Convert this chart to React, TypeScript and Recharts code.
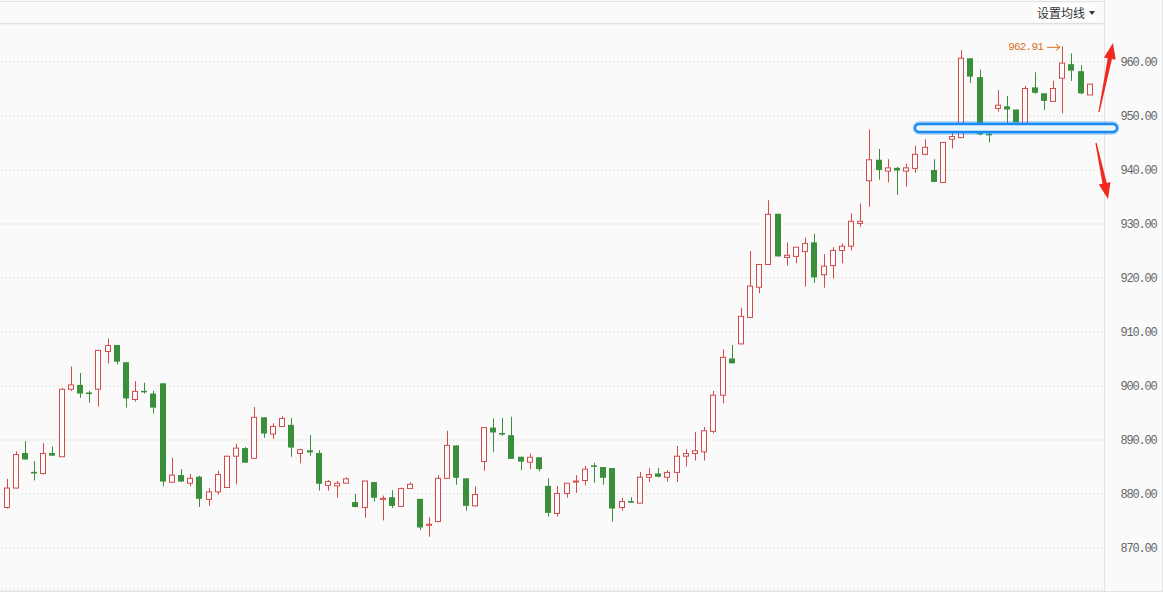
import React from "react";
import {
  ComposedChart,
  Bar,
  XAxis,
  YAxis,
  CartesianGrid,
  ReferenceLine,
} from "recharts";

// daily candles (oldest first)
const opens = [
  872.4, 877.5, 881.1, 887.6, 884.1, 883.8, 887.6, 886.9, 899.4, 900.2,
  898.8, 899.4, 906.4, 907.6, 904.4, 897.5, 899.1, 898.6, 900.5, 882.2,
  883.5, 882.0, 883.2, 879.0, 880.4, 881.2, 887.0, 888.5, 886.6, 894.2,
  891.1, 892.5, 892.8, 887.5, 888.1, 887.6, 881.6, 881.5, 882.0, 878.5,
  877.5, 882.2, 879.0, 879.4, 877.7, 881.0, 879.1, 874.2, 874.9, 882.9,
  889.0, 882.9, 877.8, 886.0, 892.3, 891.3, 890.9, 886.9, 885.9, 886.8,
  881.5, 876.4, 880.1, 882.2, 882.5, 885.3, 885.0, 884.8, 877.5, 878.7,
  878.3, 883.1, 883.8, 883.1, 884.0, 887.0, 887.5, 887.8, 891.6, 898.3,
  905.1, 907.8, 912.7, 918.3, 922.5, 931.9, 923.8, 924.0, 924.9, 926.6,
  920.6, 922.3, 925.1, 925.9, 930.1, 938.0, 941.9, 939.8, 940.4, 939.8,
  940.3, 942.9, 940.0, 937.7, 945.7, 946.0, 960.7, 957.2, 946.7, 951.4,
  951.8, 951.2, 948.4, 955.3, 954.2, 952.7, 957.0, 959.6, 958.3, 953.9,
];
const highs = [
  877.6, 882.8, 887.9, 889.8, 886.1, 889.4, 888.8, 899.6, 903.6, 902.4,
  899.1, 906.6, 908.8, 907.6, 904.4, 900.9, 900.6, 899.1, 900.5, 886.7,
  884.6, 883.7, 883.4, 881.1, 884.3, 887.0, 889.3, 888.7, 896.1, 894.2,
  893.1, 894.4, 894.1, 888.4, 890.9, 888.1, 882.6, 882.4, 883.1, 880.0,
  882.4, 882.2, 879.7, 880.7, 881.2, 882.2, 879.1, 875.7, 883.5, 891.7,
  889.0, 882.9, 881.4, 892.3, 894.0, 894.1, 894.3, 886.9, 887.5, 886.8,
  882.9, 881.5, 882.0, 883.5, 885.2, 885.8, 885.0, 884.8, 879.3, 879.4,
  884.1, 884.8, 884.8, 884.4, 888.9, 888.3, 891.5, 892.4, 899.1, 906.8,
  907.6, 914.5, 925.0, 922.5, 934.4, 931.9, 926.6, 925.7, 927.5, 928.2,
  924.4, 925.7, 926.4, 932.0, 933.8, 947.5, 943.9, 942.0, 940.6, 941.2,
  944.5, 945.7, 942.0, 945.1, 947.1, 962.2, 960.7, 958.6, 948.0, 954.8,
  953.7, 951.2, 955.6, 958.1, 954.2, 956.5, 962.91, 961.6, 959.4, 955.9,
];
const lows = [
  872.4, 877.3, 881.0, 886.3, 882.5, 883.6, 887.0, 886.9, 899.1, 897.8,
  896.9, 896.2, 904.2, 904.0, 896.0, 897.1, 898.6, 894.9, 881.4, 882.0,
  882.3, 881.4, 877.6, 877.8, 879.9, 881.2, 881.8, 885.8, 886.6, 890.4,
  890.2, 892.5, 886.9, 885.7, 887.1, 880.6, 880.6, 879.3, 882.0, 877.5,
  875.6, 878.6, 875.1, 877.4, 877.6, 881.0, 873.3, 872.1, 874.8, 882.9,
  881.7, 876.9, 877.7, 884.3, 887.8, 890.8, 886.5, 884.4, 884.6, 884.2,
  875.8, 875.8, 879.3, 880.2, 881.6, 882.1, 881.7, 874.9, 876.9, 878.4,
  878.3, 882.2, 883.1, 882.3, 882.2, 885.1, 886.2, 886.2, 891.2, 896.8,
  904.2, 907.7, 912.7, 917.2, 922.5, 924.0, 922.3, 922.7, 918.4, 919.1,
  918.2, 919.9, 922.7, 925.1, 929.5, 933.2, 938.2, 937.7, 935.4, 936.9,
  939.5, 942.7, 937.8, 937.7, 944.0, 946.0, 956.1, 946.4, 945.1, 950.8,
  948.5, 948.8, 947.4, 954.1, 951.1, 952.7, 950.5, 956.5, 954.0, 953.9,
];
const closes = [
  877.5, 881.1, 887.3, 886.4, 883.8, 887.5, 887.1, 899.4, 900.2, 898.6,
  898.5, 906.6, 907.5, 904.5, 897.7, 899.0, 898.9, 896.0, 882.3, 883.5,
  882.3, 882.9, 879.1, 880.4, 883.6, 887.0, 888.5, 885.8, 894.2, 891.2,
  892.5, 894.0, 888.6, 888.2, 887.7, 881.9, 882.3, 882.0, 882.8, 877.6,
  882.4, 879.3, 879.2, 877.8, 881.0, 881.8, 873.8, 874.4, 882.9, 889.0,
  883.0, 877.8, 879.9, 892.3, 891.4, 891.0, 886.5, 886.0, 886.8, 884.6,
  876.5, 880.1, 882.0, 882.4, 884.6, 885.1, 883.0, 877.3, 878.6, 878.4,
  883.1, 883.6, 883.2, 884.0, 887.0, 887.5, 888.0, 891.7, 898.3, 905.3,
  904.2, 912.9, 918.5, 922.5, 931.8, 924.0, 924.2, 925.7, 926.4, 920.1,
  922.2, 925.1, 925.9, 930.5, 930.5, 941.9, 940.0, 940.4, 939.9, 940.4,
  942.9, 944.2, 937.8, 945.1, 946.2, 960.7, 957.3, 946.6, 946.6, 952.0,
  951.2, 948.8, 955.1, 954.3, 952.8, 955.1, 959.8, 958.4, 954.2, 955.9,
];

const priceTicks = [870, 880, 890, 900, 910, 920, 930, 940, 950, 960];
const supportLevel = 947.8; // hand-drawn blue band

const UP = "#d24a4a";
const DOWN = "#3a8f3a";
const maxHigh = Math.max(...highs);

const data = opens.map((o, i) => ({
  idx: i,
  open: o,
  high: highs[i],
  low: lows[i],
  close: closes[i],
  range: [lows[i], highs[i]],
}));

const Candle = (props: any) => {
  const { x, y, width, height, payload } = props;
  if (!payload) return null;
  const { open, close, high, low } = payload;
  const top = Math.min(y, y + height);
  const span = Math.abs(height);
  const k = high > low ? span / (high - low) : 0;
  const py = (v: number) => top + (high - v) * k;
  const c = Math.floor(x + width / 2);
  const up = close >= open;
  const color = up ? UP : DOWN;
  const bTop = py(Math.max(open, close));
  const bBot = py(Math.min(open, close));
  const bh = Math.max(bBot - bTop, 1);
  const wx = c + 0.5;

  return (
    <g>
      {up ? (
        <>
          <line x1={wx} x2={wx} y1={py(high)} y2={bTop} stroke={color} strokeWidth={1} />
          <line x1={wx} x2={wx} y1={bTop + bh} y2={py(low)} stroke={color} strokeWidth={1} />
          <rect x={c - 2.5} y={bTop} width={5} height={bh} fill="#fdfdfd" stroke={color} strokeWidth={1} />
        </>
      ) : (
        <>
          <line x1={wx} x2={wx} y1={py(high)} y2={py(low)} stroke={color} strokeWidth={1} />
          <rect x={c - 3} y={bTop} width={6} height={Math.max(bh, 1.5)} fill={color} />
        </>
      )}
      {high === maxHigh && (
        <g>
          <text
            x={c - 19}
            y={py(high)}
            dy="0.35em"
            textAnchor="end"
            fontSize={11}
            fontFamily="Liberation Mono, monospace"
            letterSpacing={-0.8}
            fill="#d9711f"
          >
            {high.toFixed(2)}
          </text>
          <path
            d={`M${c - 15},${py(high) + 1} H${c - 2} M${c - 6},${py(high) - 2} L${c - 2},${py(high) + 1} L${c - 6},${py(high) + 4}`}
            stroke="#d9711f"
            strokeWidth={1}
            fill="none"
          />
        </g>
      )}
    </g>
  );
};

const SupportBand = (props: any) => {
  const { y1 } = props;
  const left = 915;
  const right = 1117;
  return (
    <g>
      <rect x={left} y={y1 - 4.5} width={right - left} height={9} rx={4.5} fill="none" stroke="rgba(40,150,245,0.4)" strokeWidth={4.5} />
      <rect x={left} y={y1 - 4} width={right - left} height={8} rx={4} fill="#eaf5ff" stroke="#1a8cf0" strokeWidth={2.5} />
    </g>
  );
};

function arrowPoints(x0: number, y0: number, x1: number, y1: number) {
  const len = Math.hypot(x1 - x0, y1 - y0);
  const ux = (x1 - x0) / len;
  const uy = (y1 - y0) / len;
  const nx = -uy;
  const ny = ux;
  const head = 16;
  const bx = x1 - ux * head;
  const by = y1 - uy * head;
  const pts = [
    [x0 + nx * 0.6, y0 + ny * 0.6],
    [bx + nx * 2.2, by + ny * 2.2],
    [bx + nx * 6, by + ny * 6],
    [x1, y1],
    [bx - nx * 6, by - ny * 6],
    [bx - nx * 2.2, by - ny * 2.2],
    [x0 - nx * 0.6, y0 - ny * 0.6],
  ];
  return pts.map((p) => p.join(",")).join(" ");
}

const line = (style: React.CSSProperties) => (
  <div style={{ position: "absolute", background: "#e2e2e2", ...style }} />
);

export default function App() {
  return (
    <div
      style={{
        position: "absolute",
        left: 0,
        top: 0,
        width: 1163,
        height: 592,
        background: "#fafafa",
        overflow: "hidden",
      }}
    >
      {line({ left: 0, top: 1, width: 1104, height: 1 })}
      {line({ left: 0, top: 23, width: 1104, height: 1 })}
      {line({ left: 1104, top: 0, width: 1, height: 592 })}
      {line({ left: 1162, top: 0, width: 1, height: 592 })}
      {line({ left: 0, top: 591, width: 1163, height: 1 })}

      <div
        style={{
          position: "absolute",
          left: 1033,
          top: 4,
          width: 62,
          height: 17,
          background: "#ffffff",
          fontFamily: "Noto Sans CJK SC, sans-serif",
          fontSize: 12,
          lineHeight: "17px",
          color: "#333",
        }}
      >
        <span style={{ position: "absolute", left: 4, top: 0 }}>设置均线</span>
        <span
          style={{
            position: "absolute",
            left: 56,
            top: 7,
            width: 0,
            height: 0,
            borderLeft: "3px solid transparent",
            borderRight: "3px solid transparent",
            borderTop: "4px solid #333",
          }}
        />
      </div>

      <div style={{ position: "absolute", left: 0, top: 0 }}>
        <ComposedChart
          width={1163}
          height={592}
          data={data}
          margin={{ top: 24, right: 0, bottom: 2, left: -6.5 }}
        >
          <CartesianGrid vertical={false} stroke="#c6c6c6" strokeDasharray="1 3" />
          <XAxis dataKey="idx" hide padding={{ left: 0, right: 8 }} />
          <YAxis
            orientation="right"
            width={60}
            domain={[862.22, 967.04]}
            allowDataOverflow
            ticks={priceTicks}
            tickFormatter={(v: number) => v.toFixed(2)}
            axisLine={false}
            tickLine={false}
            tickMargin={11.5}
            tick={{
              fill: "#666666",
              fontSize: 12,
              fontFamily: "Liberation Mono, monospace",
              letterSpacing: -1.2,
            }}
          />
          <Bar
            dataKey="range"
            isAnimationActive={false}
            shape={(p: any) => <Candle {...p} />}
          />
          <ReferenceLine
            y={supportLevel}
            ifOverflow="visible"
            shape={(p: any) => <SupportBand {...p} />}
          />
        </ComposedChart>
      </div>

      <svg
        width={1163}
        height={592}
        style={{ position: "absolute", left: 0, top: 0, pointerEvents: "none" }}
      >
        <polygon points={arrowPoints(1099, 112, 1113, 43)} fill="#f02a1e" />
        <polygon points={arrowPoints(1096, 143, 1108, 199)} fill="#f02a1e" />
      </svg>
    </div>
  );
}
